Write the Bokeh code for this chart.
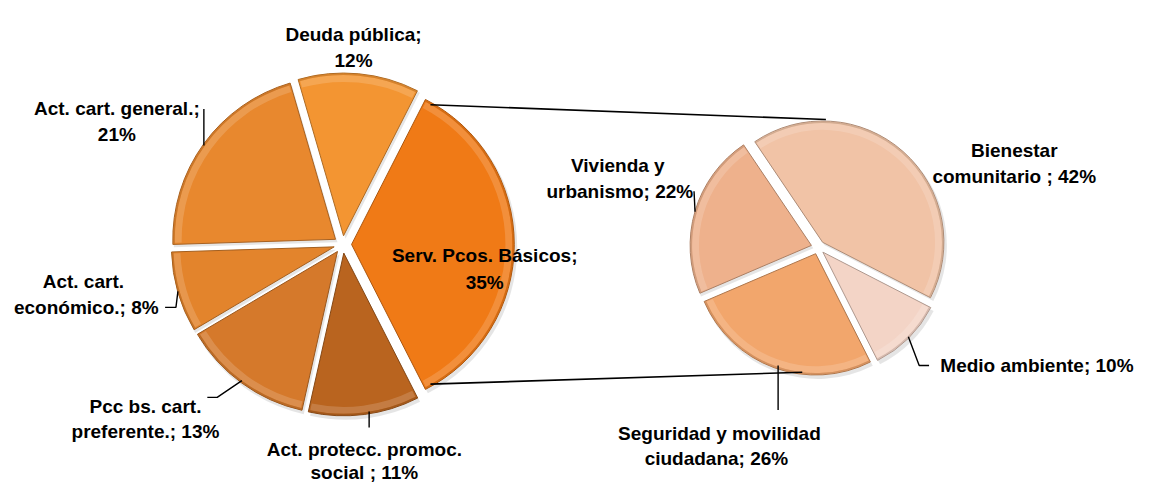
import math
from bokeh.plotting import figure
from bokeh.models import Range1d
from bokeh.embed import file_html
from bokeh.resources import INLINE
from bokeh.core.properties import value

# ---------------- data ----------------
main_categories = ["Serv. Pcos. Básicos", "Act. protecc. promoc. social",
                   "Pcc bs. cart. preferente.", "Act. cart. económico.",
                   "Act. cart. general.", "Deuda pública"]
main_values = [35, 11, 13, 8, 21, 12]
main_labels = [["Serv. Pcos. Básicos;", "35%"],
               ["Act. protecc. promoc.", "social ; 11%"],
               ["Pcc bs. cart.", "preferente.; 13%"],
               ["Act. cart.", "económico.; 8%"],
               ["Act. cart. general.;", "21%"],
               ["Deuda pública;", "12%"]]
main_colors = ["#F07A16", "#B9641F", "#D5792B", "#E3842C", "#E8882E", "#F39532"]

sub_categories = ["Bienestar comunitario", "Medio ambiente",
                  "Seguridad y movilidad ciudadana", "Vivienda y urbanismo"]
sub_values = [42, 10, 26, 22]
sub_labels = [["Bienestar", "comunitario ; 42%"],
              ["Medio ambiente; 10%"],
              ["Seguridad y movilidad", "ciudadana; 26%"],
              ["Vivienda y", "urbanismo; 22%"]]
sub_colors = ["#F1C3A6", "#F3D4C6", "#F2A66C", "#EEB18C"]

# ---------------- layout (reference pixel coordinates) ----------------
W, H = 1155, 500
FONT = "Liberation Sans"
FSIZE = "19px"


def Y(py):
    return H - py


# data space = reference picture pixels, scaled into the figure that fits the page
p = figure(width=W - 16, height=H - 16, output_backend="svg", toolbar_location=None,
           x_range=Range1d(0, W), y_range=Range1d(0, H), min_border=0)
p.axis.visible = False
p.grid.visible = False
p.outline_line_color = None
p.background_fill_color = "white"


def darker(hexc, f):
    r, g, b = int(hexc[1:3], 16), int(hexc[3:5], 16), int(hexc[5:7], 16)
    return "#%02x%02x%02x" % (min(255, int(r * f)), min(255, int(g * f)), min(255, int(b * f)))


def draw_pie(cx, cy, R, expl, values, colors, start):
    total = float(sum(values))
    th = start
    geo = []
    for v, c in zip(values, colors):
        span = v / total * 360.0
        t1, t2 = th, th + span
        tm = math.radians((t1 + t2) / 2)
        ox, oy = cx + expl * math.sin(tm), Y(cy) + expl * math.cos(tm)
        sa, ea = math.radians(90 - t2), math.radians(90 - t1)
        # soft shadow
        p.wedge(x=ox + 2, y=oy - 3, radius=R + 1, start_angle=sa, end_angle=ea,
                fill_color="black", fill_alpha=0.10, line_color=None)
        p.wedge(x=ox, y=oy, radius=R, start_angle=sa, end_angle=ea,
                fill_color=c, line_color=darker(c, 0.72), line_width=1)
        # bevel: light band just inside the rim
        p.annular_wedge(x=ox, y=oy, inner_radius=R - 9, outer_radius=R - 2,
                        start_angle=sa + 0.01, end_angle=ea - 0.01, fill_color="white",
                        fill_alpha=0.16, line_color=None)
        p.annular_wedge(x=ox, y=oy, inner_radius=R - 2, outer_radius=R - 0.5,
                        start_angle=sa, end_angle=ea, fill_color=darker(c, 0.8),
                        fill_alpha=0.6, line_color=None)
        geo.append((ox, oy, t1, t2))
        th = t2
    return geo


# left (main) pie: split slice centred at 3 o'clock
LCX, LCY, LR, LE = 347, 252, 165, 9
main_start = 90 - main_values[0] / sum(main_values) * 360 / 2
lgeo = draw_pie(LCX, LCY, LR, LE, main_values, main_colors, main_start)

# right (secondary) pie
RCX, RCY, RR, RE = 829, 255, 123, 7
sub_start = -34
rgeo = draw_pie(RCX, RCY, RR, RE, sub_values, sub_colors, sub_start)

# connector lines from split slice corners to secondary pie
ox, oy, t1, t2 = lgeo[0]
a1, a2 = math.radians(t1 + 2), math.radians(t2 - 2)
top_l = (ox + LR * math.sin(a1), oy + LR * math.cos(a1))
bot_l = (ox + LR * math.sin(a2), oy + LR * math.cos(a2))
top_r = (RCX + 8, Y(RCY) + RR + 9)
bot_r = (RCX - 16, Y(RCY) - RR - 6)
p.line([top_l[0], top_r[0]], [top_l[1], top_r[1]], line_color="black", line_width=1.6)
p.line([bot_l[0], bot_r[0]], [bot_l[1], bot_r[1]], line_color="black", line_width=1.6)


def edge(geo, R, i):
    ox, oy, t1, t2 = geo[i]
    tm = math.radians((t1 + t2) / 2)
    return ox + R * math.sin(tm), oy + R * math.cos(tm)


def leader(pts):
    p.line([q[0] for q in pts], [q[1] for q in pts], line_color="black", line_width=1.4)


# leader lines
ex, ey = edge(lgeo, LR, 4)   # general
leader([(ex, ey), (ex, Y(112))])
ex, ey = edge(lgeo, LR, 3)   # económico
leader([(ex, ey), (ex - 2, Y(317)), (ex - 13, Y(317))])
ex, ey = edge(lgeo, LR, 2)   # preferente
leader([(ex, ey), (ex - 25, Y(410)), (ex - 35, Y(410))])
ex, ey = edge(lgeo, LR, 1)   # protecc
leader([(ex + 5, ey), (ex + 5, Y(441))])
ex, ey = edge(rgeo, RR, 3)   # vivienda
leader([(ex, ey), (ex - 1, Y(197))])
ex, ey = edge(rgeo, RR, 1)   # medio
leader([(ex, ey), (ex + 11, Y(377)), (ex + 21, Y(377))])
ex, ey = edge(rgeo, RR, 2)   # seguridad
leader([(ex + 4, ey), (ex + 4, Y(423))])

# label anchor positions (centre x, baseline y for each line)
main_pos = [[(491, 263), (491, 291)],
            [(369, 464), (369, 488)],
            [(147, 419), (147, 445)],
            [(84, 290), (87, 317)],
            [(118, 112), (118, 138)],
            [(358, 35), (358, 62)]]
sub_pos = [[(1028, 155), (1028, 182)],
           [(1051, 377)],
           [(729, 447), (726, 473)],
           [(626, 170), (628, 197)]]

xs, ys, ts = [], [], []
for lines, pos in list(zip(main_labels, main_pos)) + list(zip(sub_labels, sub_pos)):
    for t, (px, py) in zip(lines, pos):
        xs.append(px)
        ys.append(Y(py))
        ts.append(t)
p.text(x=xs, y=ys, text=ts, text_align="center", text_baseline="alphabetic",
       text_font=value(FONT), text_font_size=FSIZE, text_font_style="bold",
       text_color="black")

open("out.html", "w").write(file_html(p, INLINE))
